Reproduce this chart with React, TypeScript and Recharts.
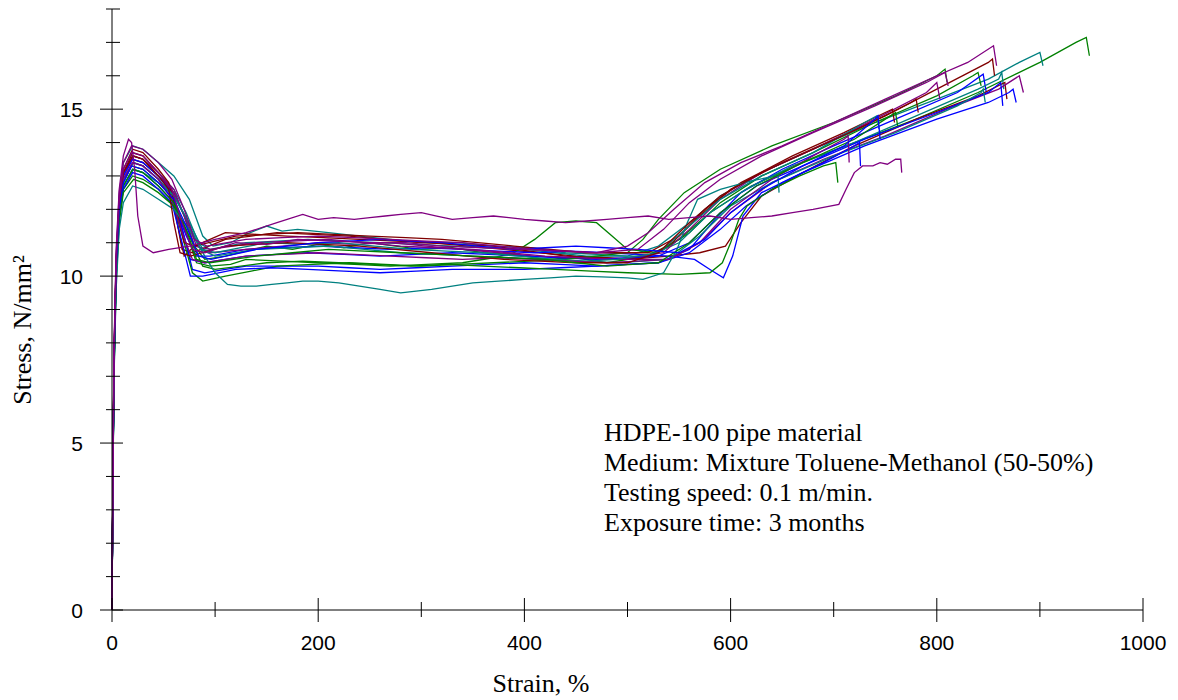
import React from "react"
import { Line, LineChart, XAxis, YAxis } from "recharts"

// stress-strain curves, each point is [strain %, stress N/mm²]
const green1 = [[0,0],[1,4.4],[2,7.4],[4,10.2],[7,12.1],[11,13.0],[19,13.5],[30,13.4],[45,13.0],[60,12.5],[70,11.8],[80,10.9],[90,10.5],[110,10.6],[130,10.75],[150,10.9],[175,10.8],[200,10.95],[225,10.85],[250,11.0],[275,10.9],[300,10.8],[330,10.85],[360,10.7],[390,10.65],[420,10.5],[450,10.55],[480,10.4],[520,10.6],[550,11.1],[580,11.9],[620,12.7],[670,13.4],[720,14.0],[780,14.7],[840,15.5],[900,16.4],[935,17.0],[945,17.15],[948,16.6]]
const teal1 = [[0,0],[1,4.5],[2,7.6],[4,10.5],[7,12.4],[11,13.4],[20,13.9],[30,13.8],[45,13.4],[60,13.0],[75,12.3],[88,11.2],[98,10.9],[115,11.0],[130,11.25],[150,11.5],[165,11.35],[180,11.4],[210,11.3],[240,11.2],[270,11.1],[300,11.0],[335,11.0],[370,10.9],[405,10.85],[440,10.7],[470,10.65],[500,10.6],[530,10.9],[560,11.6],[590,12.4],[630,13.1],[680,13.8],[740,14.6],[800,15.3],[850,15.9],[880,16.4],[900,16.7],[903,16.3]]
const purple1 = [[0,0],[1,4.6],[2,7.7],[4,10.4],[7,12.3],[11,13.2],[19,13.7],[30,13.6],[45,13.1],[58,12.6],[68,11.6],[78,10.8],[90,10.7],[120,11.0],[150,10.95],[180,11.1],[215,11.05],[250,11.0],[285,11.0],[320,10.9],[360,10.85],[400,10.8],[435,10.75],[470,10.7],[500,10.9],[520,11.3],[545,12.0],[575,12.8],[610,13.4],[650,13.9],[700,14.6],[750,15.3],[800,16.0],[830,16.4],[855,16.9],[858,16.3]]
const red1 = [[0,0],[1,4.5],[2,7.5],[4,10.3],[7,12.2],[11,13.1],[20,13.7],[30,13.6],[45,13.1],[58,12.6],[64,11.5],[70,10.6],[80,10.9],[110,11.3],[140,11.25],[170,11.2],[205,11.15],[240,11.1],[275,11.05],[310,11.0],[345,10.9],[380,10.8],[415,10.7],[450,10.6],[480,10.55],[510,10.5],[540,10.9],[570,11.8],[600,12.6],[650,13.4],[700,14.1],[750,14.8],[800,15.6],[850,16.4],[854,16.5],[856,16.0]]
const green2 = [[0,0],[1,4.3],[2,7.3],[4,10.1],[7,11.9],[11,12.8],[19,13.3],[30,13.2],[45,12.8],[60,12.3],[72,11.3],[82,10.4],[95,10.3],[115,10.35],[130,10.5],[165,10.45],[200,10.4],[235,10.35],[270,10.3],[305,10.35],[340,10.4],[370,10.55],[390,10.7],[410,11.1],[430,11.6],[450,11.65],[470,11.6],[485,11.2],[500,10.8],[530,10.7],[560,11.3],[590,12.2],[630,13.0],[680,13.7],[740,14.6],[800,15.4],[835,16.0],[840,16.1],[843,15.7]]
const blue1 = [[0,0],[1,4.4],[2,7.4],[4,10.2],[7,12.0],[11,12.9],[20,13.4],[30,13.3],[45,12.9],[60,12.4],[70,11.2],[78,10.2],[90,10.1],[110,10.2],[130,10.3],[165,10.3],[200,10.3],[230,10.25],[260,10.2],[295,10.25],[330,10.3],[365,10.35],[400,10.4],[435,10.35],[470,10.3],[500,10.35],[530,10.4],[560,10.8],[585,11.7],[610,12.5],[650,13.2],[700,13.9],[760,14.7],[820,15.5],[845,16.05],[848,15.5]]
const teal2 = [[0,0],[1,4.5],[2,7.5],[4,10.3],[7,12.2],[11,13.1],[20,13.6],[30,13.5],[45,13.1],[60,12.6],[72,11.9],[84,11.0],[95,10.8],[130,11.0],[160,11.05],[190,11.1],[225,11.05],[260,11.0],[295,10.95],[330,10.9],[365,10.85],[400,10.8],[430,10.7],[460,10.6],[490,10.6],[520,10.6],[550,11.0],[580,11.9],[615,12.6],[660,13.3],[720,14.0],[780,14.8],[840,15.6],[860,15.9],[863,16.1],[865,15.6]]
const red2 = [[0,0],[1,4.6],[2,7.6],[4,10.4],[7,12.2],[11,13.1],[21,13.6],[30,13.5],[45,13.0],[55,12.7],[62,11.8],[68,10.8],[78,10.7],[110,11.1],[135,11.2],[160,11.3],[195,11.25],[230,11.2],[265,11.1],[300,11.0],[335,10.95],[370,10.9],[405,10.75],[440,10.6],[470,10.55],[500,10.5],[540,10.6],[570,10.7],[595,10.9],[610,11.6],[630,12.4],[670,13.1],[720,13.9],[780,14.7],[840,15.4],[866,15.8],[868,15.3]]
const purple2 = [[0,0],[1,4.4],[2,7.5],[4,10.3],[7,12.1],[11,13.0],[20,13.5],[30,13.4],[45,13.0],[60,12.5],[72,11.7],[82,10.9],[95,10.7],[130,10.8],[165,10.9],[200,11.0],[235,10.95],[270,11.0],[305,10.9],[340,10.8],[375,10.7],[410,10.6],[445,10.55],[480,10.5],[510,10.5],[540,10.5],[570,11.0],[600,11.9],[640,12.8],[690,13.5],[750,14.2],[810,15.0],[860,15.6],[880,16.0],[884,15.5]]
const blue2 = [[0,0],[1,4.3],[2,7.3],[4,10.0],[7,11.9],[11,12.7],[20,13.2],[30,13.1],[45,12.7],[60,12.2],[72,11.2],[82,10.6],[95,10.6],[130,10.8],[165,10.85],[200,10.9],[235,10.85],[270,10.8],[305,10.85],[340,10.8],[375,10.75],[410,10.7],[445,10.75],[480,10.7],[510,10.65],[540,10.6],[565,10.5],[580,10.2],[593,9.95],[602,10.6],[612,11.8],[630,12.5],[670,13.1],[730,13.9],[800,14.7],[850,15.2],[870,15.5],[874,15.6],[877,15.2]]
const blue3 = [[0,0],[1,4.5],[2,7.5],[4,10.3],[7,12.1],[11,13.0],[20,13.5],[30,13.4],[45,13.0],[58,12.5],[68,11.4],[76,10.5],[90,10.4],[130,10.6],[160,10.65],[190,10.7],[225,10.65],[260,10.6],[295,10.65],[330,10.7],[365,10.65],[400,10.6],[435,10.55],[470,10.5],[500,10.55],[530,10.6],[560,11.0],[590,11.9],[625,12.7],[670,13.3],[730,14.1],[800,14.9],[850,15.5],[862,15.8],[864,15.1]]
const teal3 = [[0,0],[1,4.3],[2,7.3],[4,10.1],[7,11.9],[11,12.7],[21,13.2],[30,13.1],[45,12.8],[60,12.4],[74,11.6],[86,10.8],[100,10.6],[140,10.8],[175,10.85],[210,10.9],[245,10.8],[280,10.7],[315,10.65],[350,10.6],[385,10.55],[420,10.5],[455,10.45],[490,10.4],[540,10.5],[570,11.2],[600,12.1],[640,12.8],[700,13.6],[760,14.3],[820,15.1],[843,15.5],[845,15.6],[847,15.2]]
const purple3 = [[0,0],[1,4.6],[2,7.8],[4,10.6],[7,12.5],[11,13.4],[19,13.9],[30,13.8],[45,13.4],[58,12.9],[70,12.0],[80,11.1],[92,10.9],[130,11.1],[165,11.15],[200,11.2],[235,11.15],[270,11.1],[305,11.05],[340,11.0],[375,10.9],[410,10.8],[440,10.75],[470,10.7],[510,10.8],[535,11.4],[560,12.2],[590,12.9],[630,13.6],[680,14.3],[740,15.1],[790,15.8],[808,16.1],[811,15.7]]
const green3 = [[0,0],[1,4.2],[2,7.2],[4,9.9],[7,11.7],[11,12.6],[20,13.0],[30,12.9],[45,12.6],[60,12.1],[70,11.0],[78,10.1],[88,9.85],[110,10.0],[135,10.15],[160,10.3],[195,10.35],[230,10.4],[265,10.35],[300,10.3],[335,10.35],[370,10.4],[405,10.45],[440,10.5],[470,10.6],[500,10.7],[515,11.1],[530,11.7],[555,12.5],[590,13.2],[640,13.9],[700,14.6],[760,15.4],[800,16.0],[808,16.2],[810,15.8]]
const purple4 = [[0,0],[1,4.5],[2,7.6],[4,10.4],[7,12.2],[11,13.1],[20,13.6],[30,13.5],[45,13.1],[60,12.6],[70,11.8],[80,10.9],[95,10.8],[140,11.0],[175,11.05],[210,11.1],[245,11.0],[280,10.9],[315,10.85],[350,10.8],[385,10.7],[420,10.6],[455,10.55],[490,10.5],[535,10.7],[560,11.4],[590,12.3],[630,13.1],[680,13.8],[740,14.7],[790,15.5],[800,15.8],[803,15.3]]
const red3 = [[0,0],[1,4.6],[2,7.7],[4,10.5],[7,12.3],[11,13.2],[20,13.8],[30,13.7],[45,13.2],[55,12.8],[63,11.9],[70,11.0],[80,10.9],[120,11.2],[150,11.25],[180,11.3],[215,11.25],[250,11.2],[285,11.15],[320,11.1],[355,11.0],[390,10.9],[425,10.8],[460,10.7],[490,10.7],[520,10.7],[550,11.2],[575,12.0],[610,12.8],[660,13.6],[710,14.3],[750,14.9],[757,15.0],[759,14.6]]
const teal4 = [[0,0],[1,4.4],[2,7.4],[4,10.2],[7,12.0],[11,12.9],[21,13.4],[30,13.3],[45,12.9],[60,12.4],[75,11.6],[88,10.8],[100,10.7],[125,10.85],[150,11.0],[185,10.95],[220,11.0],[255,10.9],[290,10.8],[325,10.75],[360,10.7],[395,10.6],[430,10.5],[460,10.45],[490,10.5],[530,10.7],[560,11.5],[590,12.3],[630,13.0],[680,13.7],[730,14.6],[742,14.8],[744,14.4]]
const blue4 = [[0,0],[1,4.3],[2,7.2],[4,10.0],[7,11.8],[11,12.6],[20,13.1],[30,13.0],[45,12.6],[58,12.2],[68,11.0],[76,10.0],[88,10.0],[120,10.2],[155,10.25],[190,10.2],[225,10.15],[260,10.1],[295,10.15],[330,10.2],[365,10.2],[400,10.2],[435,10.25],[470,10.3],[500,10.35],[530,10.4],[560,10.7],[590,11.4],[615,12.1],[650,12.8],[690,13.4],[720,13.9],[725,14.0],[726,13.3]]
const purple5 = [[0,0],[1,4.4],[2,7.4],[4,10.2],[7,12.0],[11,12.9],[20,13.4],[30,13.3],[45,12.9],[58,12.3],[68,11.3],[78,10.5],[90,10.4],[130,10.6],[165,10.65],[200,10.7],[235,10.65],[270,10.6],[305,10.55],[340,10.5],[375,10.55],[410,10.5],[445,10.45],[480,10.4],[510,10.45],[540,10.5],[570,11.0],[600,12.0],[640,12.9],[680,13.6],[710,14.1],[714,14.2],[715,13.4]]
const green4 = [[0,0],[1,4.2],[2,7.1],[4,9.8],[7,11.6],[11,12.5],[21,12.9],[30,12.8],[45,12.5],[60,12.1],[75,11.2],[88,10.3],[100,10.2],[125,10.3],[150,10.4],[185,10.45],[220,10.4],[255,10.35],[290,10.3],[325,10.35],[360,10.3],[395,10.25],[430,10.2],[465,10.15],[500,10.1],[550,10.05],[580,10.1],[592,10.4],[600,11.0],[608,11.7],[616,12.1],[640,12.6],[667,13.0],[690,13.3],[702,13.4],[704,12.8]]
const purple6 = [[0,0],[1,4.8],[2,7.9],[4,10.8],[7,12.6],[11,13.6],[16,14.1],[19,14.0],[22,13.2],[25,11.8],[30,10.9],[40,10.7],[55,10.8],[75,10.9],[100,11.1],[130,11.3],[160,11.6],[185,11.85],[200,11.7],[215,11.75],[235,11.7],[250,11.75],[265,11.8],[280,11.85],[300,11.9],[315,11.8],[330,11.7],[350,11.75],[370,11.8],[385,11.75],[400,11.7],[420,11.65],[440,11.6],[460,11.65],[480,11.7],[500,11.75],[520,11.8],[540,11.7],[560,11.75],[580,11.8],[600,11.7],[620,11.75],[640,11.8],[660,11.9],[680,12.0],[705,12.15],[712,12.6],[720,13.1],[728,13.3],[738,13.3],[745,13.4],[752,13.35],[760,13.5],[765,13.5],[766,13.1]]
const teal5 = [[0,0],[1,4.1],[2,7.0],[4,9.6],[7,11.4],[11,12.2],[20,12.7],[30,12.6],[45,12.3],[60,12.0],[75,11.4],[90,10.6],[100,10.1],[112,9.75],[125,9.7],[140,9.7],[155,9.75],[170,9.8],[185,9.85],[200,9.85],[220,9.8],[240,9.7],[260,9.6],[280,9.5],[295,9.55],[310,9.6],[330,9.7],[350,9.8],[375,9.85],[400,9.9],[425,9.95],[450,10.0],[475,9.98],[500,9.95],[515,9.9],[535,10.1],[548,10.8],[558,11.6],[568,12.3],[590,12.6],[620,12.85],[644,13.0],[646,13.0],[647,12.5]]
const red4 = [[0,0],[1,4.5],[2,7.5],[4,10.3],[7,12.2],[11,13.1],[20,13.6],[30,13.5],[45,13.0],[55,12.6],[60,11.6],[66,10.7],[76,10.6],[110,10.9],[140,10.95],[170,11.0],[205,10.95],[240,10.9],[275,10.8],[310,10.7],[345,10.6],[380,10.5],[415,10.45],[450,10.4],[475,10.4],[500,10.4],[530,10.7],[560,11.6],[590,12.4],[630,13.1],[680,13.8],[730,14.5],[775,15.2],[780,15.3],[782,14.9]]
const green5 = [[0,0],[1,4.3],[2,7.3],[4,10.1],[7,11.9],[11,12.7],[20,13.2],[30,13.1],[45,12.7],[60,12.2],[72,11.4],[82,10.5],[95,10.4],[140,10.6],[175,10.7],[210,10.8],[245,10.75],[280,10.7],[315,10.65],[350,10.6],[385,10.55],[420,10.5],[450,10.4],[480,10.3],[505,10.35],[530,10.4],[560,11.0],[590,11.9],[625,12.7],[670,13.4],[720,14.1],[755,14.8],[760,14.9],[762,14.5]]
const blue5 = [[0,0],[1,4.4],[2,7.4],[4,10.2],[7,12.0],[11,12.8],[19,13.3],[30,13.2],[45,12.8],[60,12.3],[72,11.5],[84,10.6],[96,10.5],[140,10.8],[170,10.9],[200,11.0],[230,11.05],[260,11.1],[290,11.05],[320,11.0],[355,10.9],[390,10.8],[420,10.85],[450,10.9],[480,10.85],[510,10.8],[550,10.7],[575,11.1],[600,11.9],[630,12.6],[670,13.3],[710,13.9],[740,14.7],[743,14.8],[745,14.1]]

const curves = [
  { name: "green1", color: "#008000", pts: green1 },
  { name: "teal1", color: "#008080", pts: teal1 },
  { name: "red1", color: "#800000", pts: red1 },
  { name: "green2", color: "#008000", pts: green2 },
  { name: "blue1", color: "#0000ff", pts: blue1 },
  { name: "teal2", color: "#008080", pts: teal2 },
  { name: "red2", color: "#800000", pts: red2 },
  { name: "blue2", color: "#0000ff", pts: blue2 },
  { name: "purple2", color: "#800080", pts: purple2 },
  { name: "blue3", color: "#0000ff", pts: blue3 },
  { name: "teal3", color: "#008080", pts: teal3 },
  { name: "green3", color: "#008000", pts: green3 },
  { name: "purple4", color: "#800080", pts: purple4 },
  { name: "red3", color: "#800000", pts: red3 },
  { name: "teal4", color: "#008080", pts: teal4 },
  { name: "blue4", color: "#0000ff", pts: blue4 },
  { name: "purple5", color: "#800080", pts: purple5 },
  { name: "green4", color: "#008000", pts: green4 },
  { name: "teal5", color: "#008080", pts: teal5 },
  { name: "red4", color: "#800000", pts: red4 },
  { name: "green5", color: "#008000", pts: green5 },
  { name: "blue5", color: "#0000ff", pts: blue5 },
  { name: "purple3", color: "#800080", pts: purple3 },
  { name: "purple1", color: "#800080", pts: purple1 },
  { name: "purple6", color: "#800080", pts: purple6 },
]

const xTicks = [0, 100, 200, 300, 400, 500, 600, 700, 800, 900, 1000]
const yTicks = [0, 1, 2, 3, 4, 5, 6, 7, 8, 9, 10, 11, 12, 13, 14, 15, 16, 17, 18]

const notes = [
  "HDPE-100 pipe material",
  "Medium: Mixture Toluene-Methanol (50-50%)",
  "Testing speed: 0.1 m/min.",
  "Exposure time: 3 months",
]

const sans = "'Liberation Sans', Arial, sans-serif"
const serif = "'Liberation Serif', 'Times New Roman', serif"

const YTick = (props: any) => {
  const { x, y, payload } = props
  const major = payload.value % 5 === 0
  return (
    <g>
      <line x1={x - (major ? 12 : 6)} x2={x + (major ? 11 : 8)} y1={y} y2={y} stroke="#000" />
      {major && (
        <text x={x - 29} y={y} dy="0.36em" textAnchor="end" fontSize={21} fontFamily={sans} fill="#000">
          {payload.value}
        </text>
      )}
    </g>
  )
}

const XTick = (props: any) => {
  const { x, y, payload } = props
  const major = payload.value % 200 === 0
  return (
    <g>
      <line x1={x} x2={x} y1={y - (major ? 12 : 8)} y2={y + (major ? 12 : 7)} stroke="#000" />
      {major && (
        <text x={x} y={y + 40} textAnchor="middle" fontSize={21} fontFamily={sans} fill="#000">
          {payload.value}
        </text>
      )}
    </g>
  )
}

export default function App() {
  return (
    <div style={{ position: "absolute", left: 0, top: 0, width: 1178, height: 700, background: "#fff" }}>
      <LineChart width={1178} height={700} margin={{ top: 9, right: 35, left: 12, bottom: 10 }}>
        <XAxis
          type="number"
          dataKey="x"
          domain={[0, 1000]}
          ticks={xTicks}
          interval={0}
          tickSize={0}
          tickMargin={0}
          tickLine={false}
          tick={<XTick />}
          height={80}
          axisLine={{ stroke: "#000" }}
          label={() => (
            <text x={541} y={692} textAnchor="middle" fontSize={26} fontFamily={serif} fill="#000">
              Strain, %
            </text>
          )}
        />
        <YAxis
          type="number"
          domain={[0, 18]}
          ticks={yTicks}
          interval={0}
          tickSize={0}
          tickMargin={0}
          tickLine={false}
          tick={<YTick />}
          width={100}
          axisLine={{ stroke: "#000" }}
          label={() => (
            <text
              x={31}
              y={330}
              textAnchor="middle"
              fontSize={26}
              fontFamily={serif}
              fill="#000"
              transform="rotate(-90 31 330)"
            >
              Stress, N/mm²
            </text>
          )}
        />
        {curves.map((c) => (
          <Line
            key={c.name}
            data={c.pts.map(([x, y]) => ({ x, y }))}
            dataKey="y"
            type="linear"
            stroke={c.color}
            strokeWidth={1.3}
            dot={false}
            isAnimationActive={false}
          />
        ))}
      </LineChart>
      <div
        style={{
          position: "absolute",
          left: 604,
          top: 418,
          fontFamily: serif,
          fontSize: 26,
          lineHeight: "30px",
          color: "#000",
          whiteSpace: "nowrap",
        }}
      >
        {notes.map((n) => (
          <div key={n}>{n}</div>
        ))}
      </div>
    </div>
  )
}
